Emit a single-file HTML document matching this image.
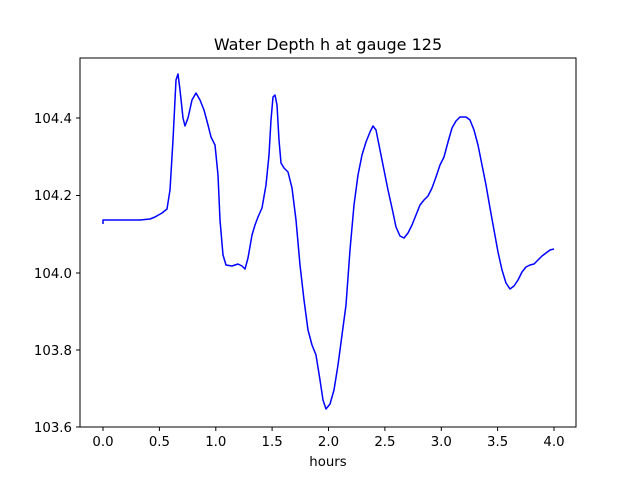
<!DOCTYPE html>
<html><head><meta charset="utf-8"><style>
body{margin:0;background:#fff}
svg text{font-family:"DejaVu Sans","Liberation Sans",sans-serif;fill:#000}
</style></head><body>
<svg width="640" height="480" xmlns="http://www.w3.org/2000/svg">
<rect width="640" height="480" fill="#fff"/>
<text x="328" y="50" font-size="16" text-anchor="middle">Water Depth h at gauge 125</text>
<polyline fill="none" stroke="#0000ff" stroke-width="1.5" stroke-linejoin="round" points="103,224 103,220 140,220 150,219 155,217 162,213 167,209 170,190 173,140 176,80 178,74 180,90 183,118 185,126 188,118 192,100 196,93 200,100 204,110 208,125 211,137 215,145 218,175 220,220 223,255 226,265 232,266 238,264 242,266 245,269 248,258 252,235 255,225 258,217 262,208 266,185 269,155 271,120 273,97 275,95 277,105 279,140 281,163 284,168 288,172 292,188 296,220 300,265 304,300 308,330 312,345 316,355 320,380 323,400 326,409 330,404 334,390 338,365 342,335 346,305 350,250 354,205 358,175 362,155 366,142 370,132 373,126 376,130 380,150 384,170 388,190 392,208 396,227 400,236 404,238 408,233 412,225 416,215 420,205 424,200 428,196 432,188 436,177 440,165 444,157 448,142 452,128 456,121 460,117 466,117 470,120 474,130 478,145 482,165 486,185 490,208 494,230 498,252 502,270 506,283 510,289 514,286 518,280 522,272 526,267 530,265 534,264 538,260 542,256 546,253 550,250 554,249"/>
<rect x="80" y="58" width="496" height="369" fill="none" stroke="#000" stroke-width="1"/>
<g stroke="#000" stroke-width="1">
<line x1="103" y1="427" x2="103" y2="431"/><line x1="159.4" y1="427" x2="159.4" y2="431"/><line x1="215.8" y1="427" x2="215.8" y2="431"/><line x1="272.1" y1="427" x2="272.1" y2="431"/><line x1="328.5" y1="427" x2="328.5" y2="431"/><line x1="384.9" y1="427" x2="384.9" y2="431"/><line x1="441.3" y1="427" x2="441.3" y2="431"/><line x1="497.6" y1="427" x2="497.6" y2="431"/><line x1="554" y1="427" x2="554" y2="431"/>
<line x1="76" y1="427" x2="80" y2="427"/><line x1="76" y1="350" x2="80" y2="350"/><line x1="76" y1="273" x2="80" y2="273"/><line x1="76" y1="195.5" x2="80" y2="195.5"/><line x1="76" y1="118" x2="80" y2="118"/>
</g>
<g font-size="13.3" text-anchor="middle">
<text x="103" y="446">0.0</text><text x="159.4" y="446">0.5</text><text x="215.8" y="446">1.0</text><text x="272.1" y="446">1.5</text><text x="328.5" y="446">2.0</text><text x="384.9" y="446">2.5</text><text x="441.3" y="446">3.0</text><text x="497.6" y="446">3.5</text><text x="554" y="446">4.0</text>
<text x="328" y="466">hours</text>
</g>
<g font-size="13.3" text-anchor="end">
<text x="72" y="432">103.6</text><text x="72" y="355">103.8</text><text x="72" y="278">104.0</text><text x="72" y="200">104.2</text><text x="72" y="123">104.4</text>
</g>
</svg>
</body></html>
